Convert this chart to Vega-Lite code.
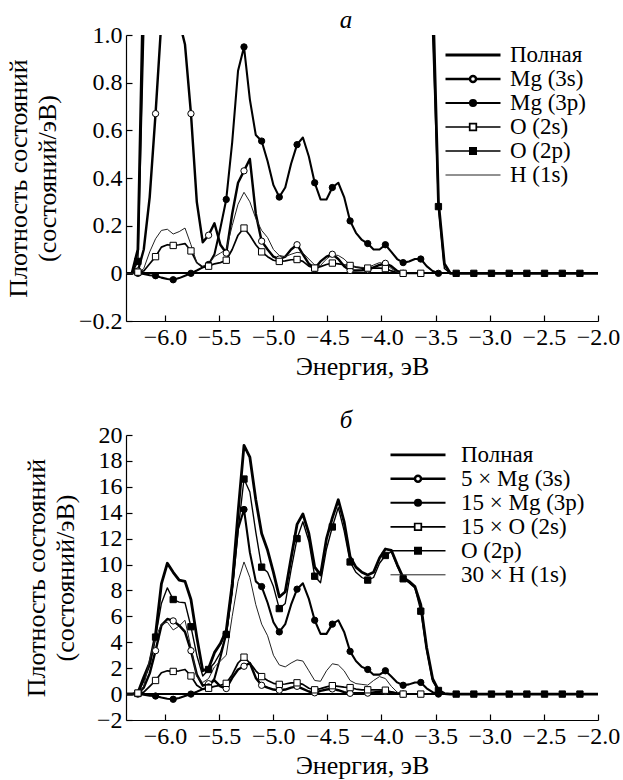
{
 "$schema": "https://vega.github.io/schema/vega-lite/v6.json",
 "background": "white",
 "padding": {"left": 5, "top": 8, "right": 2, "bottom": 2},
 "spacing": 29,
 "resolve": {"scale": {"color": "independent", "strokeWidth": "independent", "shape": "independent", "fill": "independent", "size": "independent", "x": "independent", "y": "independent"}, "legend": {"color": "independent"}},
 "config": {
  "view": {"stroke": null},
  "style": {"guide-label": {"font": "Times New Roman", "fontSize": 24, "fill": "black"}, "guide-title": {"font": "Times New Roman", "fontSize": 26, "fill": "black", "fontWeight": "normal"}},
  "axis": {"labelFont": "Times New Roman", "labelFontSize": 24, "labelColor": "black", "titleFont": "Times New Roman", "titleFontSize": 26, "titleFontWeight": "normal", "titleColor": "black", "domainColor": "black", "domainWidth": 1.2, "tickColor": "black", "tickWidth": 1.2, "grid": false, "tickSize": -6, "labelPadding": 10, "labelOverlap": false, "labelFlush": false},
  "axisY": {"titleLineHeight": 29, "titlePadding": 18},
  "axisX": {"titlePadding": 4},
  "title": {"font": "Times New Roman", "fontSize": 25, "fontStyle": "italic", "fontWeight": "normal", "color": "black", "offset": -10}
 },
 "datasets": {
  "a": [
{"s":"Полная","e":-6.359,"v":0},{"s":"Полная","e":-6.305,"v":0},{"s":"Полная","e":-6.25,"v":0.1},{"s":"Полная","e":-6.196,"v":1.3},{"s":"Полная","e":-6.141,"v":2.4},{"s":"Полная","e":-6.087,"v":4.6},{"s":"Полная","e":-6.033,"v":8.5},{"s":"Полная","e":-5.978,"v":10.1},{"s":"Полная","e":-5.924,"v":9.4},{"s":"Полная","e":-5.869,"v":8.8},{"s":"Полная","e":-5.815,"v":8.7},{"s":"Полная","e":-5.76,"v":7.3},{"s":"Полная","e":-5.706,"v":4.4},{"s":"Полная","e":-5.651,"v":1.8},{"s":"Полная","e":-5.597,"v":2.0},{"s":"Полная","e":-5.543,"v":3.2},{"s":"Полная","e":-5.488,"v":3.9},{"s":"Полная","e":-5.434,"v":4.9},{"s":"Полная","e":-5.379,"v":8.5},{"s":"Полная","e":-5.325,"v":14.0},{"s":"Полная","e":-5.27,"v":19.2},{"s":"Полная","e":-5.216,"v":18.3},{"s":"Полная","e":-5.161,"v":15.0},{"s":"Полная","e":-5.107,"v":12.4},{"s":"Полная","e":-5.052,"v":11.1},{"s":"Полная","e":-4.998,"v":9.4},{"s":"Полная","e":-4.944,"v":7.5},{"s":"Полная","e":-4.889,"v":7.9},{"s":"Полная","e":-4.835,"v":10.5},{"s":"Полная","e":-4.78,"v":13.1},{"s":"Полная","e":-4.726,"v":13.9},{"s":"Полная","e":-4.671,"v":12.4},{"s":"Полная","e":-4.617,"v":9.8},{"s":"Полная","e":-4.563,"v":9.2},{"s":"Полная","e":-4.508,"v":12.0},{"s":"Полная","e":-4.454,"v":13.6},{"s":"Полная","e":-4.399,"v":15.0},{"s":"Полная","e":-4.345,"v":13.3},{"s":"Полная","e":-4.29,"v":10.6},{"s":"Полная","e":-4.236,"v":9.8},{"s":"Полная","e":-4.181,"v":9.4},{"s":"Полная","e":-4.127,"v":9.2},{"s":"Полная","e":-4.073,"v":9.4},{"s":"Полная","e":-4.018,"v":10.5},{"s":"Полная","e":-3.964,"v":11.2},{"s":"Полная","e":-3.909,"v":11.1},{"s":"Полная","e":-3.855,"v":10.0},{"s":"Полная","e":-3.8,"v":9.0},{"s":"Полная","e":-3.746,"v":8.7},{"s":"Полная","e":-3.691,"v":8.3},{"s":"Полная","e":-3.637,"v":6.9},{"s":"Полная","e":-3.583,"v":3.6},{"s":"Полная","e":-3.528,"v":1.2},{"s":"Полная","e":-3.474,"v":0.3},{"s":"Полная","e":-3.419,"v":0.04},{"s":"Полная","e":-3.365,"v":0},{"s":"Полная","e":-2.0,"v":0},
{"s":"O (2p)","e":-6.359,"v":0},{"s":"O (2p)","e":-6.305,"v":0},{"s":"O (2p)","e":-6.25,"v":0.05},{"s":"O (2p)","e":-6.196,"v":1.0},{"s":"O (2p)","e":-6.141,"v":2.2},{"s":"O (2p)","e":-6.087,"v":4.4},{"s":"O (2p)","e":-6.033,"v":7.0},{"s":"O (2p)","e":-5.978,"v":8.2},{"s":"O (2p)","e":-5.924,"v":7.3},{"s":"O (2p)","e":-5.869,"v":7.1},{"s":"O (2p)","e":-5.815,"v":7.05},{"s":"O (2p)","e":-5.76,"v":5.2},{"s":"O (2p)","e":-5.706,"v":3.0},{"s":"O (2p)","e":-5.651,"v":1.4},{"s":"O (2p)","e":-5.597,"v":1.9},{"s":"O (2p)","e":-5.543,"v":2.4},{"s":"O (2p)","e":-5.488,"v":3.2},{"s":"O (2p)","e":-5.434,"v":4.6},{"s":"O (2p)","e":-5.379,"v":7.8},{"s":"O (2p)","e":-5.325,"v":12.6},{"s":"O (2p)","e":-5.27,"v":16.6},{"s":"O (2p)","e":-5.216,"v":15.6},{"s":"O (2p)","e":-5.161,"v":12.5},{"s":"O (2p)","e":-5.107,"v":9.8},{"s":"O (2p)","e":-5.052,"v":9.4},{"s":"O (2p)","e":-4.998,"v":8.3},{"s":"O (2p)","e":-4.944,"v":6.6},{"s":"O (2p)","e":-4.889,"v":7.0},{"s":"O (2p)","e":-4.835,"v":9.6},{"s":"O (2p)","e":-4.78,"v":12.0},{"s":"O (2p)","e":-4.726,"v":13.3},{"s":"O (2p)","e":-4.671,"v":11.8},{"s":"O (2p)","e":-4.617,"v":9.1},{"s":"O (2p)","e":-4.563,"v":8.6},{"s":"O (2p)","e":-4.508,"v":11.2},{"s":"O (2p)","e":-4.454,"v":12.9},{"s":"O (2p)","e":-4.399,"v":14.4},{"s":"O (2p)","e":-4.345,"v":12.6},{"s":"O (2p)","e":-4.29,"v":10.2},{"s":"O (2p)","e":-4.236,"v":9.4},{"s":"O (2p)","e":-4.181,"v":9.0},{"s":"O (2p)","e":-4.127,"v":8.8},{"s":"O (2p)","e":-4.073,"v":9.0},{"s":"O (2p)","e":-4.018,"v":10.1},{"s":"O (2p)","e":-3.964,"v":10.7},{"s":"O (2p)","e":-3.909,"v":11.0},{"s":"O (2p)","e":-3.855,"v":9.9},{"s":"O (2p)","e":-3.8,"v":8.9},{"s":"O (2p)","e":-3.746,"v":8.6},{"s":"O (2p)","e":-3.691,"v":8.2},{"s":"O (2p)","e":-3.637,"v":6.4},{"s":"O (2p)","e":-3.583,"v":3.4},{"s":"O (2p)","e":-3.528,"v":1.0},{"s":"O (2p)","e":-3.474,"v":0.28},{"s":"O (2p)","e":-3.419,"v":0.02},{"s":"O (2p)","e":-3.365,"v":0},{"s":"O (2p)","e":-3.31,"v":0},{"s":"O (2p)","e":-3.147,"v":0},{"s":"O (2p)","e":-2.984,"v":0},{"s":"O (2p)","e":-2.82,"v":0},{"s":"O (2p)","e":-2.657,"v":0},{"s":"O (2p)","e":-2.494,"v":0},{"s":"O (2p)","e":-2.33,"v":0},{"s":"O (2p)","e":-2.167,"v":0},{"s":"O (2p)","e":-2.0,"v":0},
{"s":"Mg (3s)","e":-6.359,"v":0},{"s":"Mg (3s)","e":-6.305,"v":0},{"s":"Mg (3s)","e":-6.25,"v":0.01},{"s":"Mg (3s)","e":-6.196,"v":0.1},{"s":"Mg (3s)","e":-6.141,"v":0.32},{"s":"Mg (3s)","e":-6.087,"v":0.67},{"s":"Mg (3s)","e":-6.033,"v":1.06},{"s":"Mg (3s)","e":-5.978,"v":1.16},{"s":"Mg (3s)","e":-5.924,"v":1.13},{"s":"Mg (3s)","e":-5.869,"v":1.06},{"s":"Mg (3s)","e":-5.815,"v":0.96},{"s":"Mg (3s)","e":-5.76,"v":0.67},{"s":"Mg (3s)","e":-5.706,"v":0.3},{"s":"Mg (3s)","e":-5.651,"v":0.13},{"s":"Mg (3s)","e":-5.597,"v":0.16},{"s":"Mg (3s)","e":-5.543,"v":0.21},{"s":"Mg (3s)","e":-5.488,"v":0.12},{"s":"Mg (3s)","e":-5.434,"v":0.085},{"s":"Mg (3s)","e":-5.379,"v":0.25},{"s":"Mg (3s)","e":-5.325,"v":0.38},{"s":"Mg (3s)","e":-5.27,"v":0.43},{"s":"Mg (3s)","e":-5.216,"v":0.48},{"s":"Mg (3s)","e":-5.161,"v":0.25},{"s":"Mg (3s)","e":-5.107,"v":0.135},{"s":"Mg (3s)","e":-5.052,"v":0.1},{"s":"Mg (3s)","e":-4.998,"v":0.07},{"s":"Mg (3s)","e":-4.944,"v":0.06},{"s":"Mg (3s)","e":-4.889,"v":0.07},{"s":"Mg (3s)","e":-4.835,"v":0.1},{"s":"Mg (3s)","e":-4.78,"v":0.12},{"s":"Mg (3s)","e":-4.726,"v":0.08},{"s":"Mg (3s)","e":-4.671,"v":0.04},{"s":"Mg (3s)","e":-4.617,"v":0.02},{"s":"Mg (3s)","e":-4.563,"v":0.05},{"s":"Mg (3s)","e":-4.508,"v":0.07},{"s":"Mg (3s)","e":-4.454,"v":0.08},{"s":"Mg (3s)","e":-4.399,"v":0.06},{"s":"Mg (3s)","e":-4.345,"v":0.03},{"s":"Mg (3s)","e":-4.29,"v":0.012},{"s":"Mg (3s)","e":-4.236,"v":0.012},{"s":"Mg (3s)","e":-4.181,"v":0.013},{"s":"Mg (3s)","e":-4.127,"v":0.015},{"s":"Mg (3s)","e":-4.073,"v":0.025},{"s":"Mg (3s)","e":-4.018,"v":0.035},{"s":"Mg (3s)","e":-3.964,"v":0.042},{"s":"Mg (3s)","e":-3.909,"v":0.03},{"s":"Mg (3s)","e":-3.855,"v":0.01},{"s":"Mg (3s)","e":-3.8,"v":0},
{"s":"Mg (3p)","e":-6.359,"v":0},{"s":"Mg (3p)","e":-6.305,"v":0},{"s":"Mg (3p)","e":-6.25,"v":0},{"s":"Mg (3p)","e":-6.196,"v":-0.003},{"s":"Mg (3p)","e":-6.141,"v":-0.008},{"s":"Mg (3p)","e":-6.087,"v":-0.01},{"s":"Mg (3p)","e":-6.033,"v":-0.018},{"s":"Mg (3p)","e":-5.978,"v":-0.024},{"s":"Mg (3p)","e":-5.924,"v":-0.027},{"s":"Mg (3p)","e":-5.869,"v":-0.02},{"s":"Mg (3p)","e":-5.815,"v":-0.01},{"s":"Mg (3p)","e":-5.76,"v":0},{"s":"Mg (3p)","e":-5.706,"v":0.012},{"s":"Mg (3p)","e":-5.651,"v":0.025},{"s":"Mg (3p)","e":-5.597,"v":0.037},{"s":"Mg (3p)","e":-5.543,"v":0.08},{"s":"Mg (3p)","e":-5.488,"v":0.19},{"s":"Mg (3p)","e":-5.434,"v":0.31},{"s":"Mg (3p)","e":-5.379,"v":0.55},{"s":"Mg (3p)","e":-5.325,"v":0.85},{"s":"Mg (3p)","e":-5.27,"v":0.95},{"s":"Mg (3p)","e":-5.216,"v":0.73},{"s":"Mg (3p)","e":-5.161,"v":0.58},{"s":"Mg (3p)","e":-5.107,"v":0.555},{"s":"Mg (3p)","e":-5.052,"v":0.47},{"s":"Mg (3p)","e":-4.998,"v":0.37},{"s":"Mg (3p)","e":-4.944,"v":0.32},{"s":"Mg (3p)","e":-4.889,"v":0.36},{"s":"Mg (3p)","e":-4.835,"v":0.46},{"s":"Mg (3p)","e":-4.78,"v":0.54},{"s":"Mg (3p)","e":-4.726,"v":0.57},{"s":"Mg (3p)","e":-4.671,"v":0.49},{"s":"Mg (3p)","e":-4.617,"v":0.38},{"s":"Mg (3p)","e":-4.563,"v":0.31},{"s":"Mg (3p)","e":-4.508,"v":0.31},{"s":"Mg (3p)","e":-4.454,"v":0.36},{"s":"Mg (3p)","e":-4.399,"v":0.38},{"s":"Mg (3p)","e":-4.345,"v":0.32},{"s":"Mg (3p)","e":-4.29,"v":0.22},{"s":"Mg (3p)","e":-4.236,"v":0.17},{"s":"Mg (3p)","e":-4.181,"v":0.14},{"s":"Mg (3p)","e":-4.127,"v":0.125},{"s":"Mg (3p)","e":-4.073,"v":0.1},{"s":"Mg (3p)","e":-4.018,"v":0.1},{"s":"Mg (3p)","e":-3.964,"v":0.12},{"s":"Mg (3p)","e":-3.909,"v":0.09},{"s":"Mg (3p)","e":-3.855,"v":0.06},{"s":"Mg (3p)","e":-3.8,"v":0.045},{"s":"Mg (3p)","e":-3.746,"v":0.05},{"s":"Mg (3p)","e":-3.691,"v":0.06},{"s":"Mg (3p)","e":-3.637,"v":0.06},{"s":"Mg (3p)","e":-3.583,"v":0.03},{"s":"Mg (3p)","e":-3.528,"v":0.01},{"s":"Mg (3p)","e":-3.474,"v":0},
{"s":"O (2s)","e":-6.359,"v":0},{"s":"O (2s)","e":-6.305,"v":0},{"s":"O (2s)","e":-6.25,"v":0.005},{"s":"O (2s)","e":-6.196,"v":0.01},{"s":"O (2s)","e":-6.141,"v":0.04},{"s":"O (2s)","e":-6.087,"v":0.07},{"s":"O (2s)","e":-6.033,"v":0.11},{"s":"O (2s)","e":-5.978,"v":0.12},{"s":"O (2s)","e":-5.924,"v":0.117},{"s":"O (2s)","e":-5.869,"v":0.12},{"s":"O (2s)","e":-5.815,"v":0.125},{"s":"O (2s)","e":-5.76,"v":0.094},{"s":"O (2s)","e":-5.706,"v":0.045},{"s":"O (2s)","e":-5.651,"v":0.025},{"s":"O (2s)","e":-5.597,"v":0.03},{"s":"O (2s)","e":-5.543,"v":0.04},{"s":"O (2s)","e":-5.488,"v":0.045},{"s":"O (2s)","e":-5.434,"v":0.055},{"s":"O (2s)","e":-5.379,"v":0.1},{"s":"O (2s)","e":-5.325,"v":0.16},{"s":"O (2s)","e":-5.27,"v":0.19},{"s":"O (2s)","e":-5.216,"v":0.16},{"s":"O (2s)","e":-5.161,"v":0.12},{"s":"O (2s)","e":-5.107,"v":0.09},{"s":"O (2s)","e":-5.052,"v":0.07},{"s":"O (2s)","e":-4.998,"v":0.055},{"s":"O (2s)","e":-4.944,"v":0.05},{"s":"O (2s)","e":-4.889,"v":0.052},{"s":"O (2s)","e":-4.835,"v":0.057},{"s":"O (2s)","e":-4.78,"v":0.058},{"s":"O (2s)","e":-4.726,"v":0.05},{"s":"O (2s)","e":-4.671,"v":0.03},{"s":"O (2s)","e":-4.617,"v":0.022},{"s":"O (2s)","e":-4.563,"v":0.028},{"s":"O (2s)","e":-4.508,"v":0.037},{"s":"O (2s)","e":-4.454,"v":0.043},{"s":"O (2s)","e":-4.399,"v":0.04},{"s":"O (2s)","e":-4.345,"v":0.036},{"s":"O (2s)","e":-4.29,"v":0.033},{"s":"O (2s)","e":-4.236,"v":0.026},{"s":"O (2s)","e":-4.181,"v":0.022},{"s":"O (2s)","e":-4.127,"v":0.022},{"s":"O (2s)","e":-4.073,"v":0.022},{"s":"O (2s)","e":-4.018,"v":0.022},{"s":"O (2s)","e":-3.964,"v":0.02},{"s":"O (2s)","e":-3.909,"v":0.01},{"s":"O (2s)","e":-3.855,"v":0.003},{"s":"O (2s)","e":-3.8,"v":0},{"s":"O (2s)","e":-3.746,"v":0},{"s":"O (2s)","e":-3.691,"v":0},{"s":"O (2s)","e":-3.637,"v":0},
{"s":"H (1s)","e":-6.359,"v":0},{"s":"H (1s)","e":-6.305,"v":0},{"s":"H (1s)","e":-6.25,"v":0},{"s":"H (1s)","e":-6.196,"v":0.02},{"s":"H (1s)","e":-6.141,"v":0.09},{"s":"H (1s)","e":-6.087,"v":0.145},{"s":"H (1s)","e":-6.033,"v":0.18},{"s":"H (1s)","e":-5.978,"v":0.185},{"s":"H (1s)","e":-5.924,"v":0.165},{"s":"H (1s)","e":-5.869,"v":0.175},{"s":"H (1s)","e":-5.815,"v":0.19},{"s":"H (1s)","e":-5.76,"v":0.12},{"s":"H (1s)","e":-5.706,"v":0.045},{"s":"H (1s)","e":-5.651,"v":0.03},{"s":"H (1s)","e":-5.597,"v":0.04},{"s":"H (1s)","e":-5.543,"v":0.07},{"s":"H (1s)","e":-5.488,"v":0.085},{"s":"H (1s)","e":-5.434,"v":0.1},{"s":"H (1s)","e":-5.379,"v":0.2},{"s":"H (1s)","e":-5.325,"v":0.29},{"s":"H (1s)","e":-5.27,"v":0.34},{"s":"H (1s)","e":-5.216,"v":0.3},{"s":"H (1s)","e":-5.161,"v":0.23},{"s":"H (1s)","e":-5.107,"v":0.18},{"s":"H (1s)","e":-5.052,"v":0.15},{"s":"H (1s)","e":-4.998,"v":0.1},{"s":"H (1s)","e":-4.944,"v":0.075},{"s":"H (1s)","e":-4.889,"v":0.07},{"s":"H (1s)","e":-4.835,"v":0.08},{"s":"H (1s)","e":-4.78,"v":0.088},{"s":"H (1s)","e":-4.726,"v":0.085},{"s":"H (1s)","e":-4.671,"v":0.06},{"s":"H (1s)","e":-4.617,"v":0.035},{"s":"H (1s)","e":-4.563,"v":0.033},{"s":"H (1s)","e":-4.508,"v":0.06},{"s":"H (1s)","e":-4.454,"v":0.078},{"s":"H (1s)","e":-4.399,"v":0.075},{"s":"H (1s)","e":-4.345,"v":0.06},{"s":"H (1s)","e":-4.29,"v":0.035},{"s":"H (1s)","e":-4.236,"v":0.027},{"s":"H (1s)","e":-4.181,"v":0.025},{"s":"H (1s)","e":-4.127,"v":0.023},{"s":"H (1s)","e":-4.073,"v":0.035},{"s":"H (1s)","e":-4.018,"v":0.045},{"s":"H (1s)","e":-3.964,"v":0.04},{"s":"H (1s)","e":-3.909,"v":0.02},{"s":"H (1s)","e":-3.855,"v":0.005},{"s":"H (1s)","e":-3.8,"v":0}
  ],
  "b": [
{"s":"Полная","e":-6.359,"v":0},{"s":"Полная","e":-6.305,"v":0},{"s":"Полная","e":-6.25,"v":0.1},{"s":"Полная","e":-6.196,"v":1.3},{"s":"Полная","e":-6.141,"v":2.4},{"s":"Полная","e":-6.087,"v":4.6},{"s":"Полная","e":-6.033,"v":8.5},{"s":"Полная","e":-5.978,"v":10.1},{"s":"Полная","e":-5.924,"v":9.4},{"s":"Полная","e":-5.869,"v":8.8},{"s":"Полная","e":-5.815,"v":8.7},{"s":"Полная","e":-5.76,"v":7.3},{"s":"Полная","e":-5.706,"v":4.4},{"s":"Полная","e":-5.651,"v":1.8},{"s":"Полная","e":-5.597,"v":2.0},{"s":"Полная","e":-5.543,"v":3.2},{"s":"Полная","e":-5.488,"v":3.9},{"s":"Полная","e":-5.434,"v":4.9},{"s":"Полная","e":-5.379,"v":8.5},{"s":"Полная","e":-5.325,"v":14.0},{"s":"Полная","e":-5.27,"v":19.2},{"s":"Полная","e":-5.216,"v":18.3},{"s":"Полная","e":-5.161,"v":15.0},{"s":"Полная","e":-5.107,"v":12.4},{"s":"Полная","e":-5.052,"v":11.1},{"s":"Полная","e":-4.998,"v":9.4},{"s":"Полная","e":-4.944,"v":7.5},{"s":"Полная","e":-4.889,"v":7.9},{"s":"Полная","e":-4.835,"v":10.5},{"s":"Полная","e":-4.78,"v":13.1},{"s":"Полная","e":-4.726,"v":13.9},{"s":"Полная","e":-4.671,"v":12.4},{"s":"Полная","e":-4.617,"v":9.8},{"s":"Полная","e":-4.563,"v":9.2},{"s":"Полная","e":-4.508,"v":12.0},{"s":"Полная","e":-4.454,"v":13.6},{"s":"Полная","e":-4.399,"v":15.0},{"s":"Полная","e":-4.345,"v":13.3},{"s":"Полная","e":-4.29,"v":10.6},{"s":"Полная","e":-4.236,"v":9.8},{"s":"Полная","e":-4.181,"v":9.4},{"s":"Полная","e":-4.127,"v":9.2},{"s":"Полная","e":-4.073,"v":9.4},{"s":"Полная","e":-4.018,"v":10.5},{"s":"Полная","e":-3.964,"v":11.2},{"s":"Полная","e":-3.909,"v":11.1},{"s":"Полная","e":-3.855,"v":10.0},{"s":"Полная","e":-3.8,"v":9.0},{"s":"Полная","e":-3.746,"v":8.7},{"s":"Полная","e":-3.691,"v":8.3},{"s":"Полная","e":-3.637,"v":6.9},{"s":"Полная","e":-3.583,"v":3.6},{"s":"Полная","e":-3.528,"v":1.2},{"s":"Полная","e":-3.474,"v":0.3},{"s":"Полная","e":-3.419,"v":0.04},{"s":"Полная","e":-3.365,"v":0},{"s":"Полная","e":-2.0,"v":0},
{"s":"O (2p)","e":-6.359,"v":0},{"s":"O (2p)","e":-6.305,"v":0},{"s":"O (2p)","e":-6.25,"v":0.05},{"s":"O (2p)","e":-6.196,"v":1.0},{"s":"O (2p)","e":-6.141,"v":2.2},{"s":"O (2p)","e":-6.087,"v":4.4},{"s":"O (2p)","e":-6.033,"v":7.0},{"s":"O (2p)","e":-5.978,"v":8.2},{"s":"O (2p)","e":-5.924,"v":7.3},{"s":"O (2p)","e":-5.869,"v":7.1},{"s":"O (2p)","e":-5.815,"v":7.05},{"s":"O (2p)","e":-5.76,"v":5.2},{"s":"O (2p)","e":-5.706,"v":3.0},{"s":"O (2p)","e":-5.651,"v":1.4},{"s":"O (2p)","e":-5.597,"v":1.9},{"s":"O (2p)","e":-5.543,"v":2.4},{"s":"O (2p)","e":-5.488,"v":3.2},{"s":"O (2p)","e":-5.434,"v":4.6},{"s":"O (2p)","e":-5.379,"v":7.8},{"s":"O (2p)","e":-5.325,"v":12.6},{"s":"O (2p)","e":-5.27,"v":16.6},{"s":"O (2p)","e":-5.216,"v":15.6},{"s":"O (2p)","e":-5.161,"v":12.5},{"s":"O (2p)","e":-5.107,"v":9.8},{"s":"O (2p)","e":-5.052,"v":9.4},{"s":"O (2p)","e":-4.998,"v":8.3},{"s":"O (2p)","e":-4.944,"v":6.6},{"s":"O (2p)","e":-4.889,"v":7.0},{"s":"O (2p)","e":-4.835,"v":9.6},{"s":"O (2p)","e":-4.78,"v":12.0},{"s":"O (2p)","e":-4.726,"v":13.3},{"s":"O (2p)","e":-4.671,"v":11.8},{"s":"O (2p)","e":-4.617,"v":9.1},{"s":"O (2p)","e":-4.563,"v":8.6},{"s":"O (2p)","e":-4.508,"v":11.2},{"s":"O (2p)","e":-4.454,"v":12.9},{"s":"O (2p)","e":-4.399,"v":14.4},{"s":"O (2p)","e":-4.345,"v":12.6},{"s":"O (2p)","e":-4.29,"v":10.2},{"s":"O (2p)","e":-4.236,"v":9.4},{"s":"O (2p)","e":-4.181,"v":9.0},{"s":"O (2p)","e":-4.127,"v":8.8},{"s":"O (2p)","e":-4.073,"v":9.0},{"s":"O (2p)","e":-4.018,"v":10.1},{"s":"O (2p)","e":-3.964,"v":10.7},{"s":"O (2p)","e":-3.909,"v":11.0},{"s":"O (2p)","e":-3.855,"v":9.9},{"s":"O (2p)","e":-3.8,"v":8.9},{"s":"O (2p)","e":-3.746,"v":8.6},{"s":"O (2p)","e":-3.691,"v":8.2},{"s":"O (2p)","e":-3.637,"v":6.4},{"s":"O (2p)","e":-3.583,"v":3.4},{"s":"O (2p)","e":-3.528,"v":1.0},{"s":"O (2p)","e":-3.474,"v":0.28},{"s":"O (2p)","e":-3.419,"v":0.02},{"s":"O (2p)","e":-3.365,"v":0},{"s":"O (2p)","e":-3.31,"v":0},{"s":"O (2p)","e":-3.147,"v":0},{"s":"O (2p)","e":-2.984,"v":0},{"s":"O (2p)","e":-2.82,"v":0},{"s":"O (2p)","e":-2.657,"v":0},{"s":"O (2p)","e":-2.494,"v":0},{"s":"O (2p)","e":-2.33,"v":0},{"s":"O (2p)","e":-2.167,"v":0},{"s":"O (2p)","e":-2.0,"v":0},
{"s":"5 × Mg (3s)","e":-6.359,"v":0},{"s":"5 × Mg (3s)","e":-6.305,"v":0},{"s":"5 × Mg (3s)","e":-6.25,"v":0.05},{"s":"5 × Mg (3s)","e":-6.196,"v":0.5},{"s":"5 × Mg (3s)","e":-6.141,"v":1.6},{"s":"5 × Mg (3s)","e":-6.087,"v":3.35},{"s":"5 × Mg (3s)","e":-6.033,"v":5.3},{"s":"5 × Mg (3s)","e":-5.978,"v":5.8},{"s":"5 × Mg (3s)","e":-5.924,"v":5.65},{"s":"5 × Mg (3s)","e":-5.869,"v":5.3},{"s":"5 × Mg (3s)","e":-5.815,"v":4.8},{"s":"5 × Mg (3s)","e":-5.76,"v":3.35},{"s":"5 × Mg (3s)","e":-5.706,"v":1.5},{"s":"5 × Mg (3s)","e":-5.651,"v":0.65},{"s":"5 × Mg (3s)","e":-5.597,"v":0.8},{"s":"5 × Mg (3s)","e":-5.543,"v":1.05},{"s":"5 × Mg (3s)","e":-5.488,"v":0.6},{"s":"5 × Mg (3s)","e":-5.434,"v":0.43},{"s":"5 × Mg (3s)","e":-5.379,"v":1.25},{"s":"5 × Mg (3s)","e":-5.325,"v":1.9},{"s":"5 × Mg (3s)","e":-5.27,"v":2.15},{"s":"5 × Mg (3s)","e":-5.216,"v":2.4},{"s":"5 × Mg (3s)","e":-5.161,"v":1.25},{"s":"5 × Mg (3s)","e":-5.107,"v":0.68},{"s":"5 × Mg (3s)","e":-5.052,"v":0.5},{"s":"5 × Mg (3s)","e":-4.998,"v":0.35},{"s":"5 × Mg (3s)","e":-4.944,"v":0.3},{"s":"5 × Mg (3s)","e":-4.889,"v":0.35},{"s":"5 × Mg (3s)","e":-4.835,"v":0.5},{"s":"5 × Mg (3s)","e":-4.78,"v":0.6},{"s":"5 × Mg (3s)","e":-4.726,"v":0.4},{"s":"5 × Mg (3s)","e":-4.671,"v":0.2},{"s":"5 × Mg (3s)","e":-4.617,"v":0.1},{"s":"5 × Mg (3s)","e":-4.563,"v":0.25},{"s":"5 × Mg (3s)","e":-4.508,"v":0.35},{"s":"5 × Mg (3s)","e":-4.454,"v":0.4},{"s":"5 × Mg (3s)","e":-4.399,"v":0.3},{"s":"5 × Mg (3s)","e":-4.345,"v":0.15},{"s":"5 × Mg (3s)","e":-4.29,"v":0.06},{"s":"5 × Mg (3s)","e":-4.236,"v":0.06},{"s":"5 × Mg (3s)","e":-4.181,"v":0.065},{"s":"5 × Mg (3s)","e":-4.127,"v":0.075},{"s":"5 × Mg (3s)","e":-4.073,"v":0.125},{"s":"5 × Mg (3s)","e":-4.018,"v":0.175},{"s":"5 × Mg (3s)","e":-3.964,"v":0.21},{"s":"5 × Mg (3s)","e":-3.909,"v":0.15},{"s":"5 × Mg (3s)","e":-3.855,"v":0.05},{"s":"5 × Mg (3s)","e":-3.8,"v":0},
{"s":"15 × Mg (3p)","e":-6.359,"v":0},{"s":"15 × Mg (3p)","e":-6.305,"v":0},{"s":"15 × Mg (3p)","e":-6.25,"v":0},{"s":"15 × Mg (3p)","e":-6.196,"v":-0.05},{"s":"15 × Mg (3p)","e":-6.141,"v":-0.12},{"s":"15 × Mg (3p)","e":-6.087,"v":-0.15},{"s":"15 × Mg (3p)","e":-6.033,"v":-0.27},{"s":"15 × Mg (3p)","e":-5.978,"v":-0.36},{"s":"15 × Mg (3p)","e":-5.924,"v":-0.4},{"s":"15 × Mg (3p)","e":-5.869,"v":-0.3},{"s":"15 × Mg (3p)","e":-5.815,"v":-0.15},{"s":"15 × Mg (3p)","e":-5.76,"v":0},{"s":"15 × Mg (3p)","e":-5.706,"v":0.18},{"s":"15 × Mg (3p)","e":-5.651,"v":0.38},{"s":"15 × Mg (3p)","e":-5.597,"v":0.55},{"s":"15 × Mg (3p)","e":-5.543,"v":1.2},{"s":"15 × Mg (3p)","e":-5.488,"v":2.85},{"s":"15 × Mg (3p)","e":-5.434,"v":4.65},{"s":"15 × Mg (3p)","e":-5.379,"v":8.25},{"s":"15 × Mg (3p)","e":-5.325,"v":12.75},{"s":"15 × Mg (3p)","e":-5.27,"v":14.25},{"s":"15 × Mg (3p)","e":-5.216,"v":10.95},{"s":"15 × Mg (3p)","e":-5.161,"v":8.7},{"s":"15 × Mg (3p)","e":-5.107,"v":8.3},{"s":"15 × Mg (3p)","e":-5.052,"v":7.05},{"s":"15 × Mg (3p)","e":-4.998,"v":5.55},{"s":"15 × Mg (3p)","e":-4.944,"v":4.8},{"s":"15 × Mg (3p)","e":-4.889,"v":5.4},{"s":"15 × Mg (3p)","e":-4.835,"v":6.9},{"s":"15 × Mg (3p)","e":-4.78,"v":8.1},{"s":"15 × Mg (3p)","e":-4.726,"v":8.55},{"s":"15 × Mg (3p)","e":-4.671,"v":7.35},{"s":"15 × Mg (3p)","e":-4.617,"v":5.7},{"s":"15 × Mg (3p)","e":-4.563,"v":4.65},{"s":"15 × Mg (3p)","e":-4.508,"v":4.65},{"s":"15 × Mg (3p)","e":-4.454,"v":5.4},{"s":"15 × Mg (3p)","e":-4.399,"v":5.7},{"s":"15 × Mg (3p)","e":-4.345,"v":4.8},{"s":"15 × Mg (3p)","e":-4.29,"v":3.3},{"s":"15 × Mg (3p)","e":-4.236,"v":2.55},{"s":"15 × Mg (3p)","e":-4.181,"v":2.1},{"s":"15 × Mg (3p)","e":-4.127,"v":1.9},{"s":"15 × Mg (3p)","e":-4.073,"v":1.5},{"s":"15 × Mg (3p)","e":-4.018,"v":1.5},{"s":"15 × Mg (3p)","e":-3.964,"v":1.8},{"s":"15 × Mg (3p)","e":-3.909,"v":1.35},{"s":"15 × Mg (3p)","e":-3.855,"v":0.9},{"s":"15 × Mg (3p)","e":-3.8,"v":0.68},{"s":"15 × Mg (3p)","e":-3.746,"v":0.75},{"s":"15 × Mg (3p)","e":-3.691,"v":0.9},{"s":"15 × Mg (3p)","e":-3.637,"v":0.9},{"s":"15 × Mg (3p)","e":-3.583,"v":0.45},{"s":"15 × Mg (3p)","e":-3.528,"v":0.15},{"s":"15 × Mg (3p)","e":-3.474,"v":0},
{"s":"15 × O (2s)","e":-6.359,"v":0},{"s":"15 × O (2s)","e":-6.305,"v":0},{"s":"15 × O (2s)","e":-6.25,"v":0.08},{"s":"15 × O (2s)","e":-6.196,"v":0.15},{"s":"15 × O (2s)","e":-6.141,"v":0.6},{"s":"15 × O (2s)","e":-6.087,"v":1.05},{"s":"15 × O (2s)","e":-6.033,"v":1.65},{"s":"15 × O (2s)","e":-5.978,"v":1.8},{"s":"15 × O (2s)","e":-5.924,"v":1.75},{"s":"15 × O (2s)","e":-5.869,"v":1.8},{"s":"15 × O (2s)","e":-5.815,"v":1.9},{"s":"15 × O (2s)","e":-5.76,"v":1.4},{"s":"15 × O (2s)","e":-5.706,"v":0.68},{"s":"15 × O (2s)","e":-5.651,"v":0.38},{"s":"15 × O (2s)","e":-5.597,"v":0.45},{"s":"15 × O (2s)","e":-5.543,"v":0.6},{"s":"15 × O (2s)","e":-5.488,"v":0.68},{"s":"15 × O (2s)","e":-5.434,"v":0.83},{"s":"15 × O (2s)","e":-5.379,"v":1.5},{"s":"15 × O (2s)","e":-5.325,"v":2.4},{"s":"15 × O (2s)","e":-5.27,"v":2.85},{"s":"15 × O (2s)","e":-5.216,"v":2.4},{"s":"15 × O (2s)","e":-5.161,"v":1.8},{"s":"15 × O (2s)","e":-5.107,"v":1.35},{"s":"15 × O (2s)","e":-5.052,"v":1.05},{"s":"15 × O (2s)","e":-4.998,"v":0.83},{"s":"15 × O (2s)","e":-4.944,"v":0.75},{"s":"15 × O (2s)","e":-4.889,"v":0.78},{"s":"15 × O (2s)","e":-4.835,"v":0.86},{"s":"15 × O (2s)","e":-4.78,"v":0.87},{"s":"15 × O (2s)","e":-4.726,"v":0.75},{"s":"15 × O (2s)","e":-4.671,"v":0.45},{"s":"15 × O (2s)","e":-4.617,"v":0.33},{"s":"15 × O (2s)","e":-4.563,"v":0.42},{"s":"15 × O (2s)","e":-4.508,"v":0.56},{"s":"15 × O (2s)","e":-4.454,"v":0.65},{"s":"15 × O (2s)","e":-4.399,"v":0.6},{"s":"15 × O (2s)","e":-4.345,"v":0.54},{"s":"15 × O (2s)","e":-4.29,"v":0.5},{"s":"15 × O (2s)","e":-4.236,"v":0.39},{"s":"15 × O (2s)","e":-4.181,"v":0.33},{"s":"15 × O (2s)","e":-4.127,"v":0.33},{"s":"15 × O (2s)","e":-4.073,"v":0.33},{"s":"15 × O (2s)","e":-4.018,"v":0.33},{"s":"15 × O (2s)","e":-3.964,"v":0.3},{"s":"15 × O (2s)","e":-3.909,"v":0.15},{"s":"15 × O (2s)","e":-3.855,"v":0.05},{"s":"15 × O (2s)","e":-3.8,"v":0},{"s":"15 × O (2s)","e":-3.746,"v":0},{"s":"15 × O (2s)","e":-3.691,"v":0},{"s":"15 × O (2s)","e":-3.637,"v":0},
{"s":"30 × H (1s)","e":-6.359,"v":0},{"s":"30 × H (1s)","e":-6.305,"v":0},{"s":"30 × H (1s)","e":-6.25,"v":0},{"s":"30 × H (1s)","e":-6.196,"v":0.6},{"s":"30 × H (1s)","e":-6.141,"v":2.7},{"s":"30 × H (1s)","e":-6.087,"v":4.35},{"s":"30 × H (1s)","e":-6.033,"v":5.4},{"s":"30 × H (1s)","e":-5.978,"v":5.55},{"s":"30 × H (1s)","e":-5.924,"v":4.95},{"s":"30 × H (1s)","e":-5.869,"v":5.25},{"s":"30 × H (1s)","e":-5.815,"v":5.7},{"s":"30 × H (1s)","e":-5.76,"v":3.6},{"s":"30 × H (1s)","e":-5.706,"v":1.35},{"s":"30 × H (1s)","e":-5.651,"v":0.9},{"s":"30 × H (1s)","e":-5.597,"v":1.2},{"s":"30 × H (1s)","e":-5.543,"v":2.1},{"s":"30 × H (1s)","e":-5.488,"v":2.55},{"s":"30 × H (1s)","e":-5.434,"v":3.0},{"s":"30 × H (1s)","e":-5.379,"v":6.0},{"s":"30 × H (1s)","e":-5.325,"v":8.7},{"s":"30 × H (1s)","e":-5.27,"v":10.2},{"s":"30 × H (1s)","e":-5.216,"v":9.0},{"s":"30 × H (1s)","e":-5.161,"v":6.9},{"s":"30 × H (1s)","e":-5.107,"v":5.4},{"s":"30 × H (1s)","e":-5.052,"v":4.5},{"s":"30 × H (1s)","e":-4.998,"v":3.0},{"s":"30 × H (1s)","e":-4.944,"v":2.25},{"s":"30 × H (1s)","e":-4.889,"v":2.1},{"s":"30 × H (1s)","e":-4.835,"v":2.4},{"s":"30 × H (1s)","e":-4.78,"v":2.64},{"s":"30 × H (1s)","e":-4.726,"v":2.55},{"s":"30 × H (1s)","e":-4.671,"v":1.8},{"s":"30 × H (1s)","e":-4.617,"v":1.05},{"s":"30 × H (1s)","e":-4.563,"v":0.99},{"s":"30 × H (1s)","e":-4.508,"v":1.8},{"s":"30 × H (1s)","e":-4.454,"v":2.34},{"s":"30 × H (1s)","e":-4.399,"v":2.25},{"s":"30 × H (1s)","e":-4.345,"v":1.8},{"s":"30 × H (1s)","e":-4.29,"v":1.05},{"s":"30 × H (1s)","e":-4.236,"v":0.81},{"s":"30 × H (1s)","e":-4.181,"v":0.75},{"s":"30 × H (1s)","e":-4.127,"v":0.69},{"s":"30 × H (1s)","e":-4.073,"v":1.05},{"s":"30 × H (1s)","e":-4.018,"v":1.35},{"s":"30 × H (1s)","e":-3.964,"v":1.2},{"s":"30 × H (1s)","e":-3.909,"v":0.6},{"s":"30 × H (1s)","e":-3.855,"v":0.15},{"s":"30 × H (1s)","e":-3.8,"v":0}
  ]
 },
 "vconcat": [
  {
   "width": 472, "height": 286,
   "title": {"text": "а", "dx": -16},
   "data": {"name": "a"},
   "layer": [
    {"mark": {"type": "rule", "color": "black", "strokeWidth": 1}, "encoding": {"y": {"datum": 0, "type": "quantitative"}}},
    {"mark": {"type": "line", "clip": true, "strokeJoin": "round"},
     "encoding": {
      "x": {"field": "e", "type": "quantitative", "scale": {"domain": [-6.36, -2.0], "nice": false, "zero": false}, "axis": {"values": [-6, -5.5, -5, -4.5, -4, -3.5, -3, -2.5, -2], "tickCount": 20, "format": ".1f", "title": "Энергия, эВ", "labelFont": "Times New Roman", "labelFontSize": 24, "labelOverlap": false, "labelFlush": false}},
      "y": {"field": "v", "type": "quantitative", "scale": {"domain": [-0.2, 1.0], "nice": false, "zero": false}, "axis": {"values": [-0.2, 0, 0.2, 0.4, 0.6, 0.8, 1.0], "tickCount": 20, "labelExpr": "datum.value === 0 ? '0' : format(datum.value, '.1f')", "title": ["Плотность состояний", "(состояний/эВ)"], "labelFont": "Times New Roman", "labelFontSize": 24, "labelOverlap": false, "labelFlush": false}},
      "color": {"field": "s", "type": "nominal", "scale": {"domain": ["Полная", "Mg (3s)", "Mg (3p)", "O (2s)", "O (2p)", "H (1s)"], "range": ["black", "black", "black", "black", "black", "#222"]},
       "legend": {"title": null, "orient": "none", "legendX": 318, "legendY": 8, "padding": 0, "symbolSize": 3025, "clipHeight": 24, "rowPadding": 0, "labelFont": "Times New Roman", "labelFontSize": 23, "labelColor": "black", "labelOffset": 8, "labelBaseline": "middle",
        "encode": {"symbols": {"update": {
         "shape": {"signal": "indexof(datum.value,'3s')>=0 || indexof(datum.value,'3p')>=0 ? 'M-1,0H-0.11M0.11,0H1M0.11,0A0.11,0.11 0 1 1 -0.11,0A0.11,0.11 0 1 1 0.11,0Z' : (indexof(datum.value,'2s')>=0 || indexof(datum.value,'2p')>=0 ? 'M-1,0H-0.12M0.12,0H1M-0.12,-0.12H0.12V0.12H-0.12Z' : 'M-1,0H1')"},
         "fill": {"signal": "indexof(datum.value,'3p')>=0 || indexof(datum.value,'2p')>=0 ? 'black' : (indexof(datum.value,'3s')>=0 || indexof(datum.value,'2s')>=0 ? 'white' : 'transparent')"},
         "stroke": {"value": "black"},
         "strokeWidth": {"signal": "datum.value === 'Полная' ? 2.8 : 1"},
         "opacity": {"value": 1}}}}}},
      "strokeWidth": {"field": "s", "type": "ordinal", "scale": {"domain": ["Полная", "Mg (3s)", "Mg (3p)", "O (2s)", "O (2p)", "H (1s)"], "range": [2.8, 1, 1, 1, 1, 1]}, "legend": null}
     }},
    {"transform": [{"filter": "indexof(datum.s,'Полная')<0 && indexof(datum.s,'H (1s)')<0 && datum.e < -2.1 && abs((datum.e+6.25)/0.16329 - round((datum.e+6.25)/0.16329)) < 0.1"}],
     "mark": {"type": "point", "clip": true, "filled": true, "stroke": "black", "strokeWidth": 1, "opacity": 1},
     "encoding": {
      "x": {"field": "e", "type": "quantitative"},
      "y": {"field": "v", "type": "quantitative"},
      "shape": {"field": "s", "type": "nominal", "scale": {"domain": ["Mg (3s)", "Mg (3p)", "O (2s)", "O (2p)"], "range": ["circle", "circle", "square", "square"]}, "legend": null},
      "fill": {"field": "s", "type": "nominal", "scale": {"domain": ["Mg (3s)", "Mg (3p)", "O (2s)", "O (2p)"], "range": ["white", "black", "white", "black"]}, "legend": null},
      "size": {"field": "s", "type": "ordinal", "scale": {"domain": ["Mg (3s)", "Mg (3p)", "O (2s)", "O (2p)"], "range": [40, 40, 40, 55]}, "legend": null}
     }}
   ],
   "resolve": {"scale": {"shape": "independent", "fill": "independent", "size": "independent"}}
  },
  {
   "width": 472, "height": 285,
   "title": {"text": "б", "dx": -16},
   "data": {"name": "b"},
   "layer": [
    {"mark": {"type": "rule", "color": "black", "strokeWidth": 1}, "encoding": {"y": {"datum": 0, "type": "quantitative"}}},
    {"mark": {"type": "line", "clip": true, "strokeJoin": "round"},
     "encoding": {
      "x": {"field": "e", "type": "quantitative", "scale": {"domain": [-6.36, -2.0], "nice": false, "zero": false}, "axis": {"values": [-6, -5.5, -5, -4.5, -4, -3.5, -3, -2.5, -2], "tickCount": 20, "format": ".1f", "title": "Энергия, эВ", "labelFont": "Times New Roman", "labelFontSize": 24, "labelOverlap": false, "labelFlush": false}},
      "y": {"field": "v", "type": "quantitative", "scale": {"domain": [-2, 20], "nice": false, "zero": false}, "axis": {"values": [-2, 0, 2, 4, 6, 8, 10, 12, 14, 16, 18, 20], "tickCount": 20, "format": "d", "title": ["Плотность состояний", "(состояний/эВ)"], "labelFont": "Times New Roman", "labelFontSize": 24, "labelOverlap": false, "labelFlush": false}},
      "color": {"field": "s", "type": "nominal", "scale": {"domain": ["Полная", "5 × Mg (3s)", "15 × Mg (3p)", "15 × O (2s)", "O (2p)", "30 × H (1s)"], "range": ["black", "black", "black", "black", "black", "#222"]},
       "legend": {"title": null, "orient": "none", "legendX": 263, "legendY": 8, "padding": 0, "symbolSize": 3025, "clipHeight": 23.6, "rowPadding": 0, "labelFont": "Times New Roman", "labelFontSize": 23, "labelColor": "black", "labelOffset": 14, "labelBaseline": "middle",
        "encode": {"symbols": {"update": {
         "shape": {"signal": "indexof(datum.value,'3s')>=0 || indexof(datum.value,'3p')>=0 ? 'M-1,0H-0.11M0.11,0H1M0.11,0A0.11,0.11 0 1 1 -0.11,0A0.11,0.11 0 1 1 0.11,0Z' : (indexof(datum.value,'2s')>=0 || indexof(datum.value,'2p')>=0 ? 'M-1,0H-0.12M0.12,0H1M-0.12,-0.12H0.12V0.12H-0.12Z' : 'M-1,0H1')"},
         "fill": {"signal": "indexof(datum.value,'3p')>=0 || indexof(datum.value,'2p')>=0 ? 'black' : (indexof(datum.value,'3s')>=0 || indexof(datum.value,'2s')>=0 ? 'white' : 'transparent')"},
         "stroke": {"value": "black"},
         "strokeWidth": {"signal": "datum.value === 'Полная' ? 2.8 : 1"},
         "opacity": {"value": 1}}}}}},
      "strokeWidth": {"field": "s", "type": "ordinal", "scale": {"domain": ["Полная", "5 × Mg (3s)", "15 × Mg (3p)", "15 × O (2s)", "O (2p)", "30 × H (1s)"], "range": [2.8, 1, 1, 1, 1, 1]}, "legend": null}
     }},
    {"transform": [{"filter": "indexof(datum.s,'Полная')<0 && indexof(datum.s,'H (1s)')<0 && datum.e < -2.1 && abs((datum.e+6.25)/0.16329 - round((datum.e+6.25)/0.16329)) < 0.1"}],
     "mark": {"type": "point", "clip": true, "filled": true, "stroke": "black", "strokeWidth": 1, "opacity": 1},
     "encoding": {
      "x": {"field": "e", "type": "quantitative"},
      "y": {"field": "v", "type": "quantitative"},
      "shape": {"field": "s", "type": "nominal", "scale": {"domain": ["5 × Mg (3s)", "15 × Mg (3p)", "15 × O (2s)", "O (2p)"], "range": ["circle", "circle", "square", "square"]}, "legend": null},
      "fill": {"field": "s", "type": "nominal", "scale": {"domain": ["5 × Mg (3s)", "15 × Mg (3p)", "15 × O (2s)", "O (2p)"], "range": ["white", "black", "white", "black"]}, "legend": null},
      "size": {"field": "s", "type": "ordinal", "scale": {"domain": ["5 × Mg (3s)", "15 × Mg (3p)", "15 × O (2s)", "O (2p)"], "range": [40, 40, 40, 60]}, "legend": null}
     }}
   ],
   "resolve": {"scale": {"shape": "independent", "fill": "independent", "size": "independent"}}
  }
 ]
}
